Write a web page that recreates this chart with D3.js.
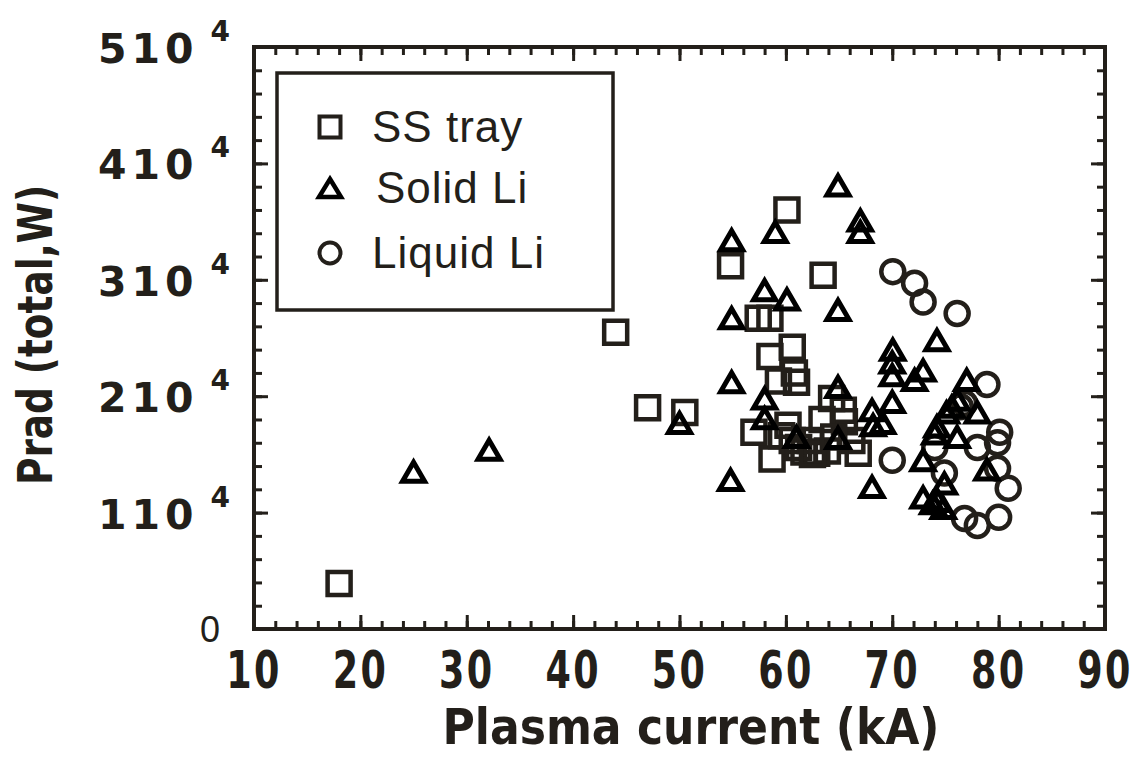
<!DOCTYPE html>
<html>
<head>
<meta charset="utf-8">
<script src="https://cdn.jsdelivr.net/npm/d3@7"></script>
<style>
  body { margin: 0; background: #fff; }
  svg { display: block; }
</style>
</head>
<body>
<div id="chartArea"></div>
<script>
// data: [plasma current kA, Prad W]
var ssTray = [
  [18, 3900], [44, 25500], [47, 19000], [50.5, 18600], [54.8, 31200], [60.1, 36000], [63.5, 30400],
  [57.4, 26700], [58.5, 26700], [58.5, 23400], [60.6, 24200], [60.8, 22000], [61.0, 21200], [59.3, 21300],
  [64.3, 19800], [65.4, 18800], [57.0, 16900], [58.7, 14600], [59.6, 16600], [60.6, 16200],
  [63.4, 18000], [65.5, 17800], [66.2, 16200], [66.8, 15100], [61.7, 15200], [62.9, 15100],
  [63.9, 15300], [61.2, 15600], [62.3, 16200], [60.2, 17500], [62.5, 15000], [64.5, 16500]
];
var solidLi = [
  [25, 13500], [32.1, 15400], [50, 17700], [54.8, 12800], [54.9, 21200], [54.9, 26700], [54.9, 33400],
  [59.0, 34100], [58.0, 29100], [60.1, 28300], [64.9, 38100], [67.0, 35100], [67.0, 34100], [64.9, 27400],
  [58.0, 19800], [58.0, 18100], [64.9, 20800], [61.0, 16500], [64.9, 16400], [68.1, 18800], [68.2, 17500],
  [69.1, 17700], [70.05, 24000], [70.0, 22900], [70.0, 21800], [70.0, 19500], [68.1, 12200],
  [72.9, 22200], [72.1, 21400], [74.2, 24800], [77.0, 21400], [76.1, 19700], [75.6, 19100], [75.1, 18600],
  [78.0, 18600], [74.2, 17400], [74.0, 16800], [76.1, 16500], [72.9, 14500], [78.9, 13700],
  [74.9, 12500], [72.9, 11300], [73.8, 10800], [74.8, 10400], [74.3, 11000]
];
var liquidLi = [
  [70.05, 30700], [72.1, 29700], [72.9, 28100], [76.1, 27100], [78.9, 21000], [76.4, 19100], [76.8, 19400],
  [74.0, 15600], [80.1, 16900], [79.9, 16000], [78.0, 15600], [70.0, 14500], [74.9, 13400], [79.9, 13800],
  [80.9, 12100], [76.8, 9500], [78.0, 8900], [80.0, 9600]
];
var seriesNames = ['SS tray', 'Solid Li', 'Liquid Li'];
var xTicks = [10, 20, 30, 40, 50, 60, 70, 80, 90];
var yTicks = [0, 10000, 20000, 30000, 40000, 50000];

var W = 1141, H = 758;
var ink = '#231f1a';

var svg = d3.select('#chartArea').append('svg')
  .attr('width', W).attr('height', H);

var x = d3.scaleLinear().domain([10, 90]).range([254, 1105]);
var y = d3.scaleLinear().domain([0, 50000]).range([629, 47]);

var xMinor = d3.range(10, 90.1, 2);
var yMinor = d3.range(0, 50001, 2000);

function tickAxis(axisFn, scale, pos, values, len) {
  var g = svg.append('g').attr('transform', pos)
    .call(axisFn(scale).tickValues(values).tickSize(len).tickFormat(''));
  g.select('.domain').remove();
  g.selectAll('line').attr('stroke', ink).attr('stroke-width', 3);
}

// inward ticks on all four sides
tickAxis(d3.axisBottom, x, 'translate(0,629)', xMinor, -8);
tickAxis(d3.axisBottom, x, 'translate(0,629)', xTicks, -14);
tickAxis(d3.axisTop, x, 'translate(0,47)', xMinor, -8);
tickAxis(d3.axisTop, x, 'translate(0,47)', xTicks, -14);
tickAxis(d3.axisLeft, y, 'translate(254,0)', yMinor, -8);
tickAxis(d3.axisLeft, y, 'translate(254,0)', yTicks, -14);
tickAxis(d3.axisRight, y, 'translate(1105,0)', yMinor, -8);
tickAxis(d3.axisRight, y, 'translate(1105,0)', yTicks, -14);

svg.append('rect')
  .attr('x', 254).attr('y', 47).attr('width', 1105 - 254).attr('height', 629 - 47)
  .attr('fill', 'none').attr('stroke', ink).attr('stroke-width', 4);

// x tick labels (tall, condensed)
var condensed = '"DejaVu Sans Condensed", "DejaVu Sans", sans-serif';
svg.selectAll('.xlab').data(xTicks).enter().append('text')
  .attr('transform', function(d) { return 'translate(' + x(d) + ',688) scale(0.78,1)'; })
  .attr('text-anchor', 'middle')
  .attr('font-family', condensed).attr('font-weight', 'bold')
  .attr('font-size', 52).attr('fill', ink)
  .attr('letter-spacing', 3)
  .text(function(d) { return d; });

// y tick labels, n 10^4 style
yTicks.forEach(function(v) {
  if (v === 0) {
    svg.append('text')
      .attr('x', 220).attr('y', y(v) + 13)
      .attr('text-anchor', 'end')
      .attr('font-family', '"Liberation Sans", Arial, sans-serif')
      .attr('font-size', 36).attr('fill', ink)
      .text('0');
    return;
  }
  var t = svg.append('text')
    .attr('x', 98).attr('y', y(v) + 16)
    .attr('font-family', '"DejaVu Sans", sans-serif').attr('font-weight', 'bold')
    .attr('font-size', 41).attr('fill', ink)
    .attr('letter-spacing', 5);
  t.append('tspan').text(String(v / 10000) + '10');
  t.append('tspan').attr('dx', 12).attr('dy', -22).attr('font-size', 28)
    .attr('letter-spacing', 0).text('4');
});

// axis titles
svg.append('text')
  .attr('x', 691).attr('y', 744)
  .attr('text-anchor', 'middle')
  .attr('font-family', condensed).attr('font-weight', 'bold')
  .attr('font-size', 50).attr('fill', ink)
  .attr('textLength', 497).attr('lengthAdjust', 'spacingAndGlyphs')
  .text('Plasma current (kA)');

svg.append('text')
  .attr('transform', 'translate(52,335) rotate(-90)')
  .attr('text-anchor', 'middle')
  .attr('font-family', condensed).attr('font-weight', 'bold')
  .attr('font-size', 48).attr('fill', ink)
  .attr('textLength', 300).attr('lengthAdjust', 'spacingAndGlyphs')
  .text('Prad (total,W)');

// marker shapes
function squarePath(s) {
  var h = s / 2;
  return 'M' + (-h) + ',' + (-h) + 'H' + h + 'V' + h + 'H' + (-h) + 'Z';
}
function trianglePath(w, h) {
  return 'M0,' + (-h / 2) + 'L' + (w / 2) + ',' + (h / 2) + 'L' + (-w / 2) + ',' + (h / 2) + 'Z';
}

var plot = svg.append('g');

plot.selectAll('.ss').data(ssTray).enter().append('path')
  .attr('transform', function(d) { return 'translate(' + x(d[0]) + ',' + y(d[1]) + ')'; })
  .attr('d', squarePath(23))
  .attr('fill', 'none').attr('stroke', ink).attr('stroke-width', 4.5);

plot.selectAll('.liq').data(liquidLi).enter().append('circle')
  .attr('cx', function(d) { return x(d[0]); })
  .attr('cy', function(d) { return y(d[1]); })
  .attr('r', 11.5)
  .attr('fill', 'none').attr('stroke', ink).attr('stroke-width', 4.5);

plot.selectAll('.sol').data(solidLi).enter().append('path')
  .attr('transform', function(d) { return 'translate(' + x(d[0]) + ',' + y(d[1]) + ')'; })
  .attr('d', trianglePath(22, 19))
  .attr('fill', 'none').attr('stroke', '#000').attr('stroke-width', 5)
  .attr('stroke-linejoin', 'miter');

// legend
var legend = svg.append('g');
legend.append('rect')
  .attr('x', 277).attr('y', 73).attr('width', 336).attr('height', 237)
  .attr('fill', '#fff').attr('stroke', ink).attr('stroke-width', 3.5);

var legendY = [127, 188, 253];
legend.append('path').attr('transform', 'translate(330,' + legendY[0] + ')')
  .attr('d', squarePath(21)).attr('fill', 'none').attr('stroke', ink).attr('stroke-width', 4);
legend.append('path').attr('transform', 'translate(330,' + legendY[1] + ')')
  .attr('d', trianglePath(22, 18)).attr('fill', 'none').attr('stroke', '#000').attr('stroke-width', 4.5);
legend.append('circle').attr('cx', 330).attr('cy', legendY[2]).attr('r', 10.5)
  .attr('fill', 'none').attr('stroke', ink).attr('stroke-width', 4);

legend.selectAll('.ltext').data(seriesNames).enter().append('text')
  .attr('x', function(d, i) { return i === 1 ? 376 : 372; })
  .attr('y', function(d, i) { return legendY[i] + 15; })
  .attr('font-family', '"Liberation Sans", Arial, sans-serif')
  .attr('font-size', 44).attr('fill', ink)
  .attr('letter-spacing', 1)
  .text(function(d) { return d; });
</script>
</body>
</html>
